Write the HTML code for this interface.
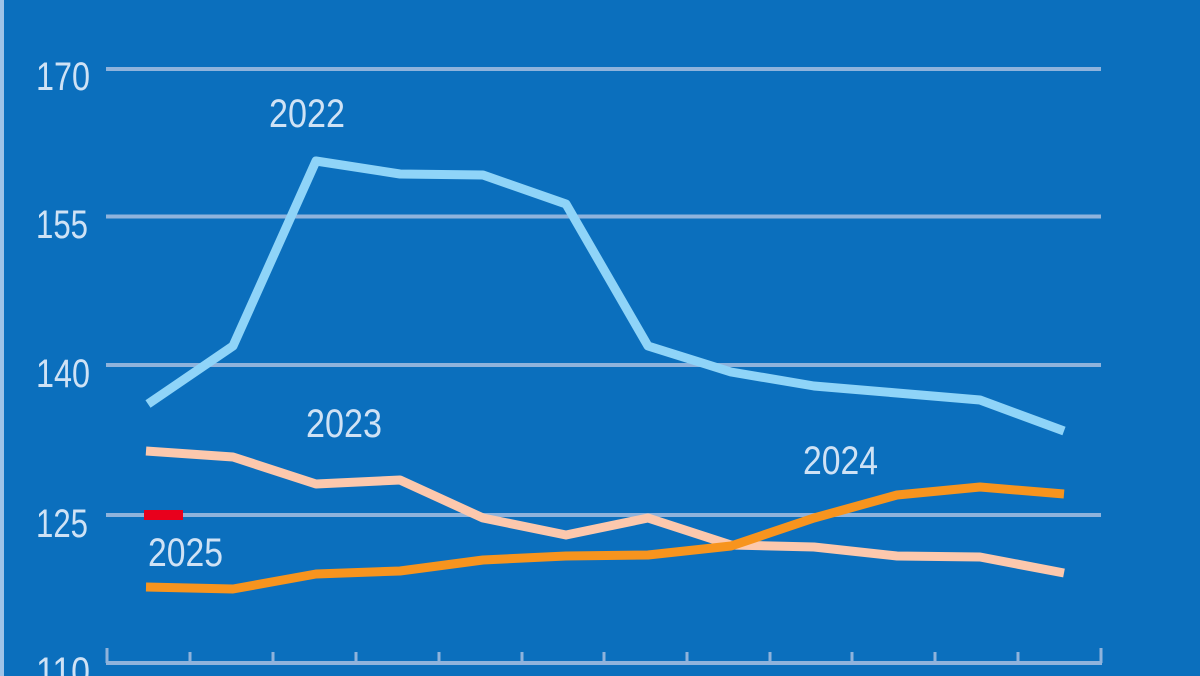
<!DOCTYPE html>
<html><head><meta charset="utf-8"><style>
html,body{margin:0;padding:0;background:#0b6fbd;}
svg{display:block;}
text{font-family:"Liberation Sans",sans-serif;fill:#cfe2f5;font-size:40px;}
</style></head><body>
<svg width="1200" height="676" viewBox="0 0 1200 676" xmlns="http://www.w3.org/2000/svg">
<rect x="0" y="0" width="1200" height="676" fill="#0b6fbd"/>
<rect x="0" y="0" width="4" height="676" fill="#9ec3e8"/>
<g stroke="#8fb3dc" stroke-width="4">
<line x1="106" y1="69" x2="1101" y2="69"/>
<line x1="106" y1="216.5" x2="1101" y2="216.5"/>
<line x1="106" y1="365" x2="1101" y2="365"/>
<line x1="106" y1="515" x2="1101" y2="515"/>
<line x1="106" y1="663" x2="1102" y2="663"/>
</g>
<g stroke="#8fb3dc" stroke-width="3">
<line x1="107" y1="648" x2="107" y2="663"/>
<line x1="190" y1="652" x2="190" y2="663"/>
<line x1="273" y1="652" x2="273" y2="663"/>
<line x1="356" y1="652" x2="356" y2="663"/>
<line x1="439" y1="652" x2="439" y2="663"/>
<line x1="522" y1="652" x2="522" y2="663"/>
<line x1="604" y1="652" x2="604" y2="663"/>
<line x1="687" y1="652" x2="687" y2="663"/>
<line x1="770" y1="652" x2="770" y2="663"/>
<line x1="852" y1="652" x2="852" y2="663"/>
<line x1="935" y1="652" x2="935" y2="663"/>
<line x1="1018" y1="652" x2="1018" y2="663"/>
<line x1="1101" y1="648" x2="1101" y2="663"/>
</g>
<text x="36" y="90" textLength="54" lengthAdjust="spacingAndGlyphs">170</text>
<text x="36" y="238" textLength="52" lengthAdjust="spacingAndGlyphs">155</text>
<text x="36" y="387" textLength="54" lengthAdjust="spacingAndGlyphs">140</text>
<text x="36" y="537" textLength="52" lengthAdjust="spacingAndGlyphs">125</text>
<text x="36" y="685" textLength="54" lengthAdjust="spacingAndGlyphs">110</text>
<g fill="none" stroke-width="9" stroke-linejoin="round" stroke-linecap="butt">
<polyline stroke="#8fd4f8" points="148,404 233,346 316,161 400,174 483,175 566,204 648,346 731,372 814,386 897,393 980,400 1064,431"/>
<polyline stroke="#fcc8ad" points="146,451 233,457 316,484 400,480 483,518 566,535 648,518 731,545 814,547 897,556 980,557 1064,573"/>
<polyline stroke="#f7941e" points="146,587 233,589 316,574 400,571 483,560 566,556 648,555 731,546 814,518 897,495 980,487 1064,494"/>
</g>
<rect x="144" y="510" width="39" height="10" fill="#e8001c"/>
<text x="269" y="127" textLength="76" lengthAdjust="spacingAndGlyphs">2022</text>
<text x="306" y="437" textLength="76" lengthAdjust="spacingAndGlyphs">2023</text>
<text x="803" y="474" textLength="75" lengthAdjust="spacingAndGlyphs">2024</text>
<text x="148" y="566" textLength="75" lengthAdjust="spacingAndGlyphs">2025</text>
</svg>
</body></html>
